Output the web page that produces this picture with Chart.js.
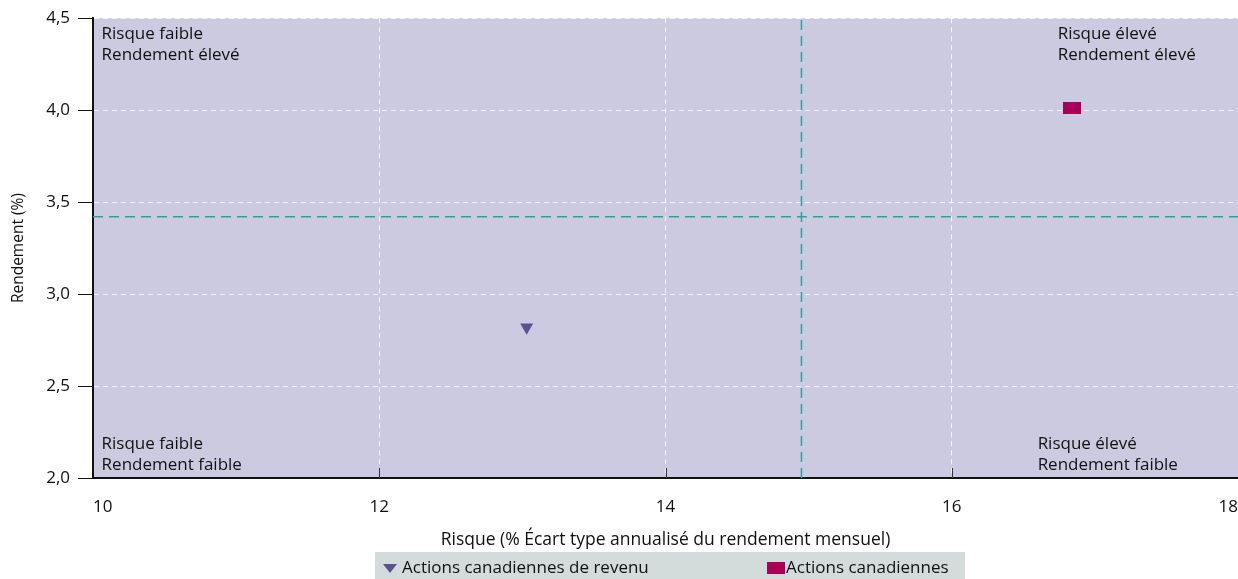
<!DOCTYPE html>
<html lang="fr">
<head>
<meta charset="UTF-8">
<title>Risque et rendement</title>
<script src="https://cdn.jsdelivr.net/npm/chart.js"></script>
<style>
  html, body { margin: 0; padding: 0; background: #fff; }
  #wrap { width: 1238px; height: 579px; }
</style>
</head>
<body>
<div id="wrap"><canvas id="riskChart" width="1238" height="579"></canvas></div>
<script>
// données
const seriesNames = ['Actions canadiennes de revenu', 'Actions canadiennes'];
const riskValues = [13.03, 16.84];
const returnValues = [2.82, 4.01];
const riskMean = 14.95;
const returnMean = 3.42;
const xTicks = [10, 12, 14, 16, 18];
const yTicks = [2.0, 2.5, 3.0, 3.5, 4.0, 4.5];
const quadrantText = [
  ['Risque faible', 'Rendement élevé'],
  ['Risque élevé', 'Rendement élevé'],
  ['Risque faible', 'Rendement faible'],
  ['Risque élevé', 'Rendement faible']
];
const quadrantX = [10.06, 16.74, 10.06, 16.6];
const quadrantY = [4.415, 4.415, 2.185, 2.185];

const purple = '#5a5193';
const magenta = '#a8005a';
const teal = '#2aa39f';
const plotBg = '#cccae0';
const fontFamily = '"Open Sans", "Noto Sans", sans-serif';

Chart.defaults.font.family = fontFamily;
Chart.defaults.font.size = 17;
Chart.defaults.color = '#111';

// marqueur rectangulaire
const rectMark = document.createElement('canvas');
rectMark.width = 18; rectMark.height = 12;
const rc = rectMark.getContext('2d');
rc.fillStyle = magenta;
rc.fillRect(0, 0, 18, 12);

const quadrantPlugin = {
  id: 'quadrants',
  beforeDraw(chart) {
    const { ctx, chartArea: a } = chart;
    ctx.save();
    ctx.fillStyle = plotBg;
    ctx.fillRect(a.left, a.top, a.right - a.left, a.bottom - a.top);
    ctx.restore();
  },
  afterDraw(chart) {
    const { ctx, chartArea: a, scales } = chart;
    ctx.save();
    // étiquettes des quadrants
    ctx.font = '17px ' + fontFamily;
    ctx.fillStyle = '#111';
    ctx.textBaseline = 'middle';
    quadrantText.forEach((lines, i) => {
      const px = scales.x.getPixelForValue(quadrantX[i]);
      const py = scales.y.getPixelForValue(quadrantY[i]);
      lines.forEach((t, j) => ctx.fillText(t, px, py + j * 21));
    });
    // petites graduations vers le haut sur l'axe des x
    ctx.strokeStyle = '#333';
    ctx.lineWidth = 1;
    xTicks.slice(1, -1).forEach(v => {
      const px = Math.round(scales.x.getPixelForValue(v)) + 0.5;
      ctx.beginPath();
      ctx.moveTo(px, a.bottom);
      ctx.lineTo(px, a.bottom - 10);
      ctx.stroke();
    });
    // légende
    const bx = 375, by = a.bottom + 74;
    ctx.fillStyle = '#d3dcdb';
    ctx.fillRect(bx, by, 590, chart.height - by);
    const ly = by + 16;
    ctx.fillStyle = purple;
    ctx.beginPath();
    ctx.moveTo(bx + 8, ly - 4);
    ctx.lineTo(bx + 22, ly - 4);
    ctx.lineTo(bx + 15, ly + 5);
    ctx.closePath();
    ctx.fill();
    ctx.fillStyle = magenta;
    ctx.fillRect(bx + 392, ly - 6, 18, 12);
    ctx.fillStyle = '#111';
    ctx.font = '17px ' + fontFamily;
    ctx.fillText(seriesNames[0], bx + 27, ly);
    ctx.fillText(seriesNames[1], bx + 411, ly);
    ctx.restore();
  }
};

new Chart(document.getElementById('riskChart'), {
  type: 'scatter',
  data: {
    datasets: [
      {
        label: 'moyenne risque',
        type: 'line',
        data: [{ x: riskMean, y: yTicks[0] }, { x: riskMean, y: yTicks[yTicks.length - 1] }],
        borderColor: teal,
        borderWidth: 1.5,
        borderDash: [10, 6],
        pointRadius: 0,
        order: 3
      },
      {
        label: 'moyenne rendement',
        type: 'line',
        data: [{ x: xTicks[0], y: returnMean }, { x: xTicks[xTicks.length - 1], y: returnMean }],
        borderColor: teal,
        borderWidth: 1.5,
        borderDash: [10, 6],
        pointRadius: 0,
        order: 3
      },
      {
        label: seriesNames[0],
        data: [{ x: riskValues[0], y: returnValues[0] }],
        pointStyle: 'triangle',
        rotation: 180,
        pointRadius: 7.5,
        backgroundColor: purple,
        borderColor: purple,
        borderWidth: 0,
        order: 1
      },
      {
        label: seriesNames[1],
        data: [{ x: riskValues[1], y: returnValues[1] }],
        pointStyle: rectMark,
        backgroundColor: magenta,
        borderColor: magenta,
        order: 1
      }
    ]
  },
  options: {
    responsive: false,
    animation: false,
    layout: { autoPadding: false, padding: { top: 16, bottom: 27, left: 0, right: 0 } },
    plugins: {
      legend: { display: false },
      tooltip: { enabled: false }
    },
    scales: {
      x: {
        type: 'linear',
        min: xTicks[0],
        max: xTicks[xTicks.length - 1],
        afterBuildTicks(scale) { scale.ticks = xTicks.map(v => ({ value: v })); },
        afterFit(scale) {
          scale.height = 74;
          scale.paddingLeft = 0;
          scale.paddingRight = 0;
        },
        ticks: { align: 'inner', padding: 19, color: '#111', font: { size: 17 } },
        grid: {
          color: 'rgba(255,255,255,0.75)',
          drawTicks: false,
          lineWidth: 1
        },
        border: { display: true, color: '#111', width: 2, dash: [5, 4] },
        title: {
          display: true,
          text: 'Risque (% Écart type annualisé du rendement mensuel)',
          color: '#111',
          font: { size: 17.5 },
          padding: { top: 0, bottom: 1 }
        }
      },
      y: {
        type: 'linear',
        min: yTicks[0],
        max: yTicks[yTicks.length - 1],
        afterBuildTicks(scale) { scale.ticks = yTicks.map(v => ({ value: v })); },
        afterFit(scale) { scale.width = 93; },
        ticks: {
          padding: 8,
          color: '#111',
          font: { size: 17 },
          callback: v => v.toFixed(1).replace('.', ',')
        },
        grid: {
          color: 'rgba(255,255,255,0.75)',
          tickBorderDash: [],
          tickColor: '#111',
          tickLength: 15,
          lineWidth: 1
        },
        border: { display: true, color: '#111', width: 2, dash: [5, 4] },
        title: {
          display: true,
          text: 'Rendement (%)',
          color: '#111',
          font: { size: 15.5 },
          padding: { top: 9, bottom: 0 }
        }
      }
    }
  },
  plugins: [quadrantPlugin]
});
</script>
</body>
</html>
